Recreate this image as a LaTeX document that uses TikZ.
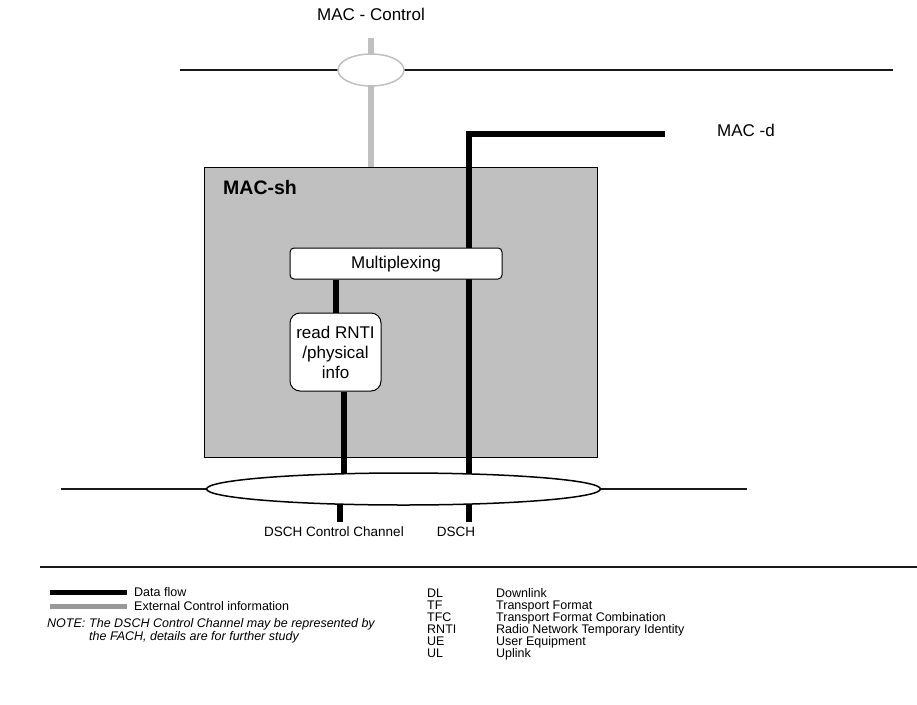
\documentclass[tikz,border=0pt]{standalone}
\usepackage{fontspec}
\setmainfont{Liberation Sans}
\usetikzlibrary{shapes.geometric}

\pgfdeclarelayer{back}
\pgfdeclarelayer{mid}
\pgfsetlayers{back,mid,main}

\definecolor{shgray}{RGB}{192,192,192}
\definecolor{ctrlgray}{RGB}{192,192,192}
\definecolor{leggray}{RGB}{153,153,153}

\tikzset{
	thinline/.style={line width=1.4pt, black!90},
	dataflow/.style={line width=6pt, black},
	ctrlflow/.style={line width=6pt, ctrlgray},
	procbox/.style={draw, line width=1pt, fill=white, rounded corners=4pt, inner sep=0pt},
	sapring/.style={ellipse, line width=1.5pt, fill=white, inner sep=0pt},
	chlabel/.style={anchor=base, font=\fontsize{13.5}{16}\selectfont},
	legtext/.style={anchor=base west, inner sep=0pt, font=\fontsize{12.5}{14}\selectfont},
	notetext/.style={legtext, font=\fontsize{12.5}{14}\selectfont\itshape},
	legbar/.style={line width=5pt},
}

\begin{document}
\begin{tikzpicture}[x=1pt, y=-1pt, font=\fontsize{17}{20}\selectfont]
		\useasboundingbox (0,0) rectangle (917,704);

		% MAC-sh entity
		\begin{pgfonlayer}{back}
			\node[draw, line width=1pt, fill=shgray, inner sep=0pt, minimum width=393pt, minimum height=290pt, anchor=north west] (sh) at (204,167) {};
		\end{pgfonlayer}
		\node[anchor=base west, inner sep=0pt, font=\fontsize{19.5}{22}\selectfont\bfseries] (shname) at (223,194) {MAC-sh};

		\node[anchor=base] (ctrl) at (371,20) {MAC - Control};
		\node[anchor=base west, inner sep=0pt] (macd) at (717,136) {MAC -d};

		\node[sapring, draw=ctrlgray, minimum width=66pt, minimum height=32pt] (ctrlsap) at (371,70) {};
		\node[procbox, minimum width=212pt, minimum height=31pt, text height=13pt, text depth=4pt] (mux) at (396,263.5) {Multiplexing};
		\node[procbox, rounded corners=10pt, align=center, minimum width=91pt, minimum height=78pt] (rnti) at (335.5,352) {read RNTI\\/physical\\info};
		\node[sapring, draw, minimum width=394pt, minimum height=32pt] (dschsap) at (403.5,489) {};

		\node[chlabel] (dcchname) at (334,536) {DSCH Control Channel};
		\node[chlabel] (dschname) at (456,536) {DSCH};

		\coordinate (ctrltop) at (371,38);
		\coordinate (topl) at (180,70);
		\coordinate (topr) at (893,70);
		\coordinate (macdend) at (665,134);
		\coordinate (dschbend) at (469,134);
		\coordinate (dschend) at (469,522);
		\coordinate (dcchend) at (340,522);
		\coordinate (busl) at (61,489);
		\coordinate (busr) at (747,489);

		\begin{pgfonlayer}{mid}
			\draw[thinline] (topl) -- (topr);
			\draw[ctrlflow] (ctrltop) -- (ctrlsap.center) -- (ctrlsap |- sh.north);
			\draw[dataflow] (macdend) -- (dschbend) -- (dschend);
			\draw[dataflow] (mux.south -| rnti.north) -- (rnti.north);
			\draw[dataflow] ([xshift=8.5pt]rnti.south) -- ([xshift=8.5pt]rnti.south |- dschsap.center);
			\draw[dataflow] (dcchend |- dschsap.center) -- (dcchend);
			\draw[thinline] (busl) -- (busr);
		\end{pgfonlayer}

		% legend
		\coordinate (sepl) at (40,567);
		\coordinate (sepr) at (917,567);
		\draw[thinline] (sepl) -- (sepr);

		\node[legtext] (lgdata) at (134,596) {Data flow};
		\node[legtext] (lgctrl) at (134,610) {External Control information};
		\coordinate (lgdatal) at (50,592);
		\coordinate (lgctrll) at (50,606);
		\draw[legbar, black] (lgdatal) -- ([xshift=-7pt]lgdatal -| lgdata.west);
		\draw[legbar, leggray] (lgctrll) -- ([xshift=-7pt]lgctrll -| lgctrl.west);

		\node[notetext] (notehead) at (47,627) {NOTE:};
		\node[notetext] (notebody1) at (89,627) {The DSCH Control Channel may be represented by};
		\node[notetext] (notebody2) at (89,640) {the FACH, details are for further study};

		\node[legtext] (abdl) at (427,597) {DL};
		\node[legtext] (abtf) at (427,609) {TF};
		\node[legtext] (abtfc) at (427,621) {TFC};
		\node[legtext] (abrnti) at (427,633) {RNTI};
		\node[legtext] (abue) at (427,645) {UE};
		\node[legtext] (abul) at (427,657) {UL};
		\node[legtext] (exdl) at (496,597) {Downlink};
		\node[legtext] (extf) at (496,609) {Transport Format};
		\node[legtext] (extfc) at (496,621) {Transport Format Combination};
		\node[legtext] (exrnti) at (496,633) {Radio Network Temporary Identity};
		\node[legtext] (exue) at (496,645) {User Equipment};
		\node[legtext] (exul) at (496,657) {Uplink};
\end{tikzpicture}
\end{document}
